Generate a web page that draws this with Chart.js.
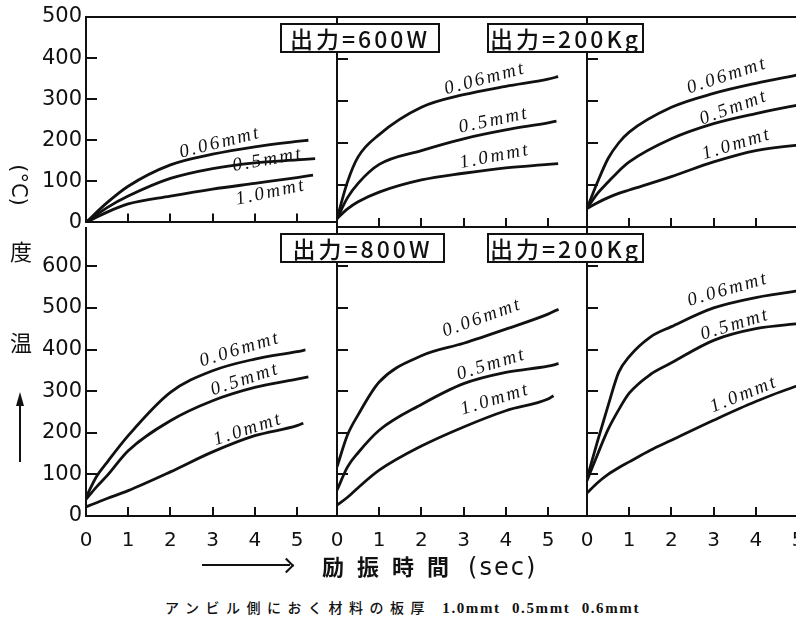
<!DOCTYPE html>
<html>
<head>
<meta charset="utf-8">
<script src="https://cdn.jsdelivr.net/npm/chart.js@4.4.1/dist/chart.umd.min.js"></script>
<style>
html, body { margin: 0; padding: 0; background: #fff; }
#fig { position: relative; width: 796px; height: 623px; overflow: hidden; background: #fff; }
#fig canvas { position: absolute; }
.cond {
    position: absolute; box-sizing: border-box; height: 30px;
    border: 2px solid #111; background: #fff; z-index: 5;
    font-family: 'Noto Sans CJK JP', sans-serif; font-weight: 500; font-size: 23px; line-height: 26px;
    letter-spacing: 3px; text-align: center; color: #111; white-space: nowrap;
}
.ytxt {
    position: absolute; font-family: 'Noto Sans CJK JP', sans-serif; color: #111;
    font-size: 22px; line-height: 22px; width: 26px; text-align: center;
}
#degc {
    position: absolute; left: -6px; top: 174px; width: 50px; height: 22px;
    transform: rotate(90deg); text-align: center; white-space: nowrap; color: #111;
    font-family: 'DejaVu Sans', sans-serif; font-size: 21px; line-height: 22px;
}
#xtitle {
    position: absolute; left: 322px; top: 552px; white-space: nowrap; color: #111;
    font-family: 'Noto Sans CJK JP', sans-serif; font-weight: bold; font-size: 22px; line-height: 26px;
}
#xtitle span { margin-right: 13px; }
#xtitle .sec { font-family: 'DejaVu Sans', sans-serif; font-weight: normal; font-size: 24px; letter-spacing: 2px; margin-left: 4px; }
#caption {
    position: absolute; left: 165px; top: 598px; white-space: nowrap; color: #111;
    font-family: 'Noto Sans CJK JP', sans-serif; font-weight: 500; font-size: 14px; line-height: 18px; letter-spacing: 6.5px;
}
#caption .lat { font-family: 'Liberation Serif', serif; font-weight: bold; font-size: 15px; letter-spacing: 1.6px; word-spacing: 6px; }
</style>
</head>
<body>
<div id="fig">
    <canvas id="cA"></canvas>
    <canvas id="cB"></canvas>
    <canvas id="cC"></canvas>
    <canvas id="cD"></canvas>
    <canvas id="cE"></canvas>
    <canvas id="cF"></canvas>

    <div class="cond" style="left:280px; top:23px; width:160px;">出力=600W</div>
    <div class="cond" style="left:487px; top:23px; width:157px;">出力=200Kg</div>
    <div class="cond" style="left:280px; top:233px; width:165px;">出力=800W</div>
    <div class="cond" style="left:487px; top:233px; width:157px;">出力=200Kg</div>

    <div id="degc">(°C)</div>
    <div class="ytxt" style="left:8px; top:239px;">度</div>
    <div class="ytxt" style="left:8px; top:330px;">温</div>
    <div style="position:absolute; left:19px; top:404px; width:2px; height:58px; background:#111;"></div>
    <div style="position:absolute; left:16px; top:392px; width:0; height:0; border-left:4px solid transparent; border-right:4px solid transparent; border-bottom:14px solid #111;"></div>

    <div style="position:absolute; left:202px; top:564px; width:88px; height:2px; background:#111;"></div>
    <div style="position:absolute; left:281px; top:560px; width:9px; height:9px; border-top:2px solid #111; border-right:2px solid #111; transform: rotate(45deg);"></div>
    <div id="xtitle"><span>励</span><span>振</span><span>時</span><span style="margin-right:15px">間</span><span class="sec">(sec)</span></div>

    <div id="caption">アンビル側におく材料の板厚<span class="lat"> 1.0mmt 0.5mmt 0.6mmt</span></div>
</div>

<script>
// plate thickness of each curve
var thickness = ["0.06mmt", "0.5mmt", "1.0mmt"];

// excitation time (sec) sampled per panel; last point of each curve is set by the *End arrays
var timeA = [0, 0.5, 1, 2, 3, 4, 5];
var endA = [5.27, 5.43, 5.38];
var tempA006 = [0, 48, 88, 140, 166, 184, 197, 200];
var tempA05 = [0, 36, 64, 107, 131, 145, 152, 155];
var tempA10 = [0, 25, 45, 64, 81, 95, 109, 115];

var timeB = [0, 0.25, 0.5, 1, 2, 3, 4, 5];
var endB = [5.24, 5.2, 5.24];
var tempB006 = [20, 108, 167, 220, 285, 315, 335, 352, 358];
var tempB05 = [20, 70, 104, 149, 182, 210, 231, 248, 252];
var tempB10 = [20, 43, 60, 83, 112, 128, 141, 149, 151];

var timeC = [0, 0.25, 0.5, 0.75, 1, 2, 3, 4, 5];
var endC = [5.4, 5.4, 5.4];
var tempC006 = [44, 107, 163, 200, 226, 285, 318, 342, 362, 370];
var tempC05 = [44, 80, 107, 133, 155, 210, 246, 270, 290, 296];
var tempC10 = [44, 58, 70, 80, 88, 120, 155, 182, 195, 198];

var timeD = [0, 0.25, 0.5, 1, 2, 3, 4, 5];
var endD = [5.2, 5.27, 5.15];
var tempD006 = [45, 95, 129, 193, 297, 349, 377, 395, 399];
var tempD05 = [40, 70, 97, 157, 229, 277, 309, 329, 334];
var tempD10 = [22, 32, 42, 61, 106, 154, 193, 217, 223];

var timeE = [0, 0.25, 0.5, 1, 2, 3, 4, 5];
var endE = [5.25, 5.25, 5.13];
var tempE006 = [118, 195, 243, 322, 385, 415, 449, 485, 497];
var tempE05 = [62, 118, 152, 206, 268, 318, 345, 360, 366];
var tempE10 = [26, 45, 68, 110, 168, 214, 253, 281, 289];

var timeF = [0, 0.25, 0.5, 0.75, 1, 1.5, 2, 3, 4, 5];
var endF = [5.4, 5.4, 5.4];
var tempF006 = [90, 180, 265, 345, 383, 430, 455, 500, 525, 541, 546];
var tempF05 = [85, 148, 208, 255, 295, 340, 368, 422, 450, 462, 466];
var tempF10 = [55, 80, 100, 116, 130, 158, 182, 230, 275, 313, 322];

// curve label anchors [time, temp, angle]
var labelA = [[3.18, 194, -14], [4.31, 152, -10], [4.38, 73, -12]];
var labelB = [[3.51, 353, -15], [3.72, 254, -12], [3.74, 168, -11]];
var labelC = [[3.32, 360, -18], [3.48, 284, -20], [3.55, 197, -17]];
var labelD = [[3.65, 400, -17], [3.77, 328, -18], [3.84, 208, -18]];
var labelE = [[3.44, 476, -20], [3.66, 364, -17], [3.75, 280, -17]];
var labelF = [[3.34, 544, -16], [3.51, 460, -17], [3.72, 292, -22]];

var tempTicksTop = [0, 100, 200, 300, 400, 500];
var tempTicksBottom = [0, 100, 200, 300, 400, 500, 600];
var timeTicks = [0, 1, 2, 3, 4, 5];

var ink = "#111";
var plotW = 251;
var colLeft = [86, 337, 587];

// short tick marks pointing into the plot, top frame line and curve labels
var panelDecor = {
    id: "panelDecor",
    afterDraw: function (chart, args, opts) {
        var ctx = chart.ctx, a = chart.chartArea;
        var xs = chart.scales.x, ys = chart.scales.y;
        ctx.save();
        ctx.strokeStyle = ink;
        ctx.lineWidth = 2;
        ctx.lineCap = "butt";
        opts.xTicks.forEach(function (v) {
            if (v <= 0) return;
            var px = Math.round(xs.getPixelForValue(v));
            ctx.beginPath();
            ctx.moveTo(px, a.bottom);
            ctx.lineTo(px, a.bottom - 9);
            ctx.stroke();
        });
        opts.yTicks.forEach(function (v) {
            if (v <= 0 || v >= ys.max) return;
            var py = Math.round(ys.getPixelForValue(v));
            ctx.beginPath();
            ctx.moveTo(a.left, py);
            ctx.lineTo(a.left + 11, py);
            ctx.stroke();
        });
        if (opts.topLine) {
            ctx.beginPath();
            ctx.moveTo(a.left, a.top);
            ctx.lineTo(a.right + 2, a.top);
            ctx.stroke();
        }

        ctx.fillStyle = ink;
        ctx.font = "italic 19px 'Liberation Serif', serif";
        ctx.letterSpacing = "2.5px";
        ctx.textAlign = "center";
        ctx.textBaseline = "middle";
        opts.labels.forEach(function (l, i) {
            ctx.save();
            ctx.translate(xs.getPixelForValue(l[0]), ys.getPixelForValue(l[1]));
            ctx.rotate(l[2] * Math.PI / 180);
            ctx.fillText(thickness[i], 0, 0);
            ctx.restore();
        });
        ctx.restore();
    }
};

function points(times, end, temps) {
    var ts = times.concat([end]);
    return temps.map(function (v, i) { return { x: ts[i], y: v }; });
}

function makePanel(id, col, row, times, ends, series, labels) {
    var axisW = col === 0 ? 86 : 24;
    var top = row === 0 ? 0 : 210;
    var padTop = row === 0 ? 17 : 18;
    var areaBottom = row === 0 ? 227 : 516;
    var xAxisH = row === 0 ? 12 : 34;
    var canvas = document.getElementById(id);
    canvas.width = axisW + plotW;
    canvas.height = areaBottom - top + xAxisH;
    canvas.style.left = (colLeft[col] - axisW) + "px";
    canvas.style.top = top + "px";

    var yTicks = row === 0 ? tempTicksTop : tempTicksBottom;

    new Chart(canvas, {
        type: "line",
        data: {
            datasets: series.map(function (s, i) {
                return {
                    label: thickness[i],
                    data: points(times, ends[i], s),
                    borderColor: ink,
                    borderWidth: 2.8,
                    pointRadius: 0,
                    fill: false,
                    cubicInterpolationMode: "monotone"
                };
            })
        },
        options: {
            responsive: false,
            animation: false,
            events: [],
            layout: { padding: { top: padTop, left: 0, right: 0, bottom: 0 } },
            plugins: {
                legend: { display: false },
                tooltip: { enabled: false },
                panelDecor: { topLine: row === 0, labels: labels, xTicks: timeTicks, yTicks: yTicks }
            },
            scales: {
                x: {
                    type: "linear",
                    min: 0,
                    max: plotW / 42.2,
                    afterBuildTicks: function (s) {
                        s.ticks = timeTicks.map(function (v) { return { value: v }; });
                    },
                    afterFit: function (s) { s.height = xAxisH; },
                    grid: { display: false, drawTicks: false },
                    border: { display: true, color: ink, width: 2 },
                    ticks: {
                        display: row === 1,
                        color: ink,
                        padding: 13,
                        maxRotation: 0,
                        font: { family: "'DejaVu Sans', sans-serif", size: 20 }
                    }
                },
                y: {
                    type: "linear",
                    min: 0,
                    max: row === 0 ? 500 : 692,
                    afterBuildTicks: function (s) {
                        s.ticks = yTicks.map(function (v) { return { value: v }; });
                    },
                    afterFit: function (s) { s.width = axisW; },
                    grid: { display: false, drawTicks: false },
                    border: { display: true, color: ink, width: 2 },
                    ticks: {
                        display: col === 0,
                        color: ink,
                        padding: 4,
                        font: { family: "'DejaVu Sans', sans-serif", size: 21 }
                    }
                }
            }
        },
        plugins: [panelDecor]
    });
}

makePanel("cA", 0, 0, timeA, endA, [tempA006, tempA05, tempA10], labelA);
makePanel("cB", 1, 0, timeB, endB, [tempB006, tempB05, tempB10], labelB);
makePanel("cC", 2, 0, timeC, endC, [tempC006, tempC05, tempC10], labelC);
makePanel("cD", 0, 1, timeD, endD, [tempD006, tempD05, tempD10], labelD);
makePanel("cE", 1, 1, timeE, endE, [tempE006, tempE05, tempE10], labelE);
makePanel("cF", 2, 1, timeF, endF, [tempF006, tempF05, tempF10], labelF);
</script>
</body>
</html>
